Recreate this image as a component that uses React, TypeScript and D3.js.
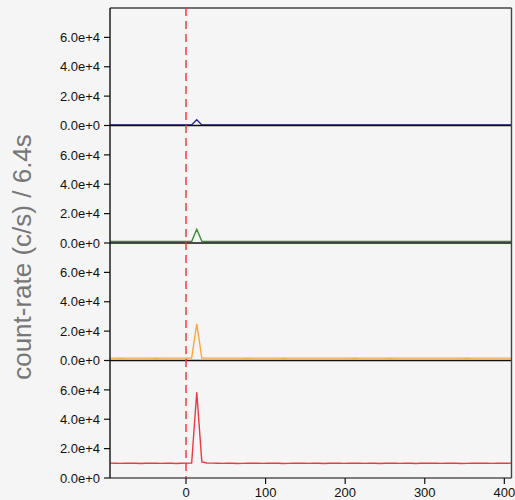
import React from "react";
import * as d3 from "d3";

const T0 = -95.3;
const BIN = 6.4;
const xTicks = [0, 100, 200, 300, 400];
const yTicks = [0, 20000, 40000, 60000];

const navy = [420, 400, 430, 410, 390, 420, 400, 410, 430, 400, 420, 410, 400, 430, 410, 400, 420, 3900, 420, 400, 410, 430, 400, 420, 410, 400, 430, 410, 420, 400, 410, 430, 400, 410, 420, 400, 430, 410, 400, 420, 410, 430, 400, 410, 420, 400, 430, 410, 420, 400, 410, 430, 400, 420, 410, 400, 430, 410, 420, 400, 410, 430, 400, 420, 410, 400, 430, 420, 400, 410, 430, 400, 420, 410, 400, 430, 410, 420, 400, 410];
const green = [1000, 1050, 980, 1020, 1000, 1040, 990, 1010, 1030, 980, 1020, 1000, 1050, 990, 1010, 1000, 1020, 9300, 1100, 1000, 1020, 1040, 990, 1010, 1030, 1000, 1050, 980, 1020, 1000, 1040, 990, 1010, 1030, 980, 1020, 1000, 1050, 990, 1010, 1000, 1020, 1040, 990, 1010, 1030, 1000, 1050, 980, 1020, 1000, 1040, 990, 1010, 1030, 980, 1020, 1000, 1050, 990, 1010, 1000, 1020, 1040, 1000, 1030, 990, 1020, 1010, 1050, 980, 1000, 1040, 1010, 990, 1030, 1000, 1020, 1010, 1000];
const orange = [1600, 1650, 1580, 1620, 1600, 1640, 1590, 1610, 1630, 1580, 1620, 1600, 1650, 1590, 1610, 1600, 1620, 25000, 1700, 1600, 1620, 1640, 1590, 1610, 1630, 1600, 1650, 1580, 1620, 1600, 1640, 1590, 1610, 1630, 1580, 1620, 1600, 1650, 1590, 1610, 1600, 1620, 1640, 1590, 1610, 1630, 1600, 1650, 1580, 1620, 1600, 1640, 1590, 1610, 1630, 1580, 1620, 1600, 1650, 1590, 1610, 1600, 1620, 1640, 1600, 1630, 1590, 1620, 1610, 1650, 1580, 1600, 1640, 1610, 1590, 1630, 1600, 1620, 1610, 1600];
const red = [10100, 10000, 9950, 10050, 10100, 10000, 9900, 10000, 10050, 10100, 9950, 10000, 10050, 9900, 10000, 10100, 10200, 58400, 11000, 10200, 10100, 10000, 9950, 10050, 10000, 9900, 9950, 10000, 10100, 10050, 9950, 10000, 10100, 10000, 9900, 9950, 10050, 10100, 10000, 9950, 10050, 10000, 9900, 10000, 10100, 10050, 9950, 10000, 10100, 10000, 9950, 10050, 10000, 9900, 10000, 10100, 10000, 9950, 10050, 10000, 9900, 10000, 10100, 10050, 10000, 9950, 10050, 10100, 10000, 9900, 9950, 10050, 10000, 10100, 10000, 9950, 10050, 10000, 10100, 10050];

const seriesList = [navy, green, orange, red];
const colors = ["#1f1f8a", "#3a8a3a", "#ffa53a", "#ea3a45"];

const W = 515;
const H = 500;
const L = 110;
const R = 511.5;
const TOP = 8;
const BOT = 478;
const PH = (BOT - TOP) / 4;

export default function App() {
  const x = d3.scaleLinear().domain([-95.5, 409]).range([L, R]);
  const times = d3.range(navy.length).map((i) => T0 + i * BIN);
  const fmt = (v: number) => v.toExponential(1);
  return (
    <svg width={W} height={H} style={{ position: "absolute", left: 0, top: 0, display: "block" }}
      fontFamily="'Liberation Sans', Arial, Helvetica, sans-serif">
      <rect x={0} y={0} width={W} height={H} fill="#f5f5f5" />
      <defs>
        <clipPath id="plotclip">
          <rect x={L} y={TOP} width={R - L} height={BOT - TOP} />
        </clipPath>
      </defs>
      {seriesList.map((vals, p) => {
        const y0 = TOP + PH * (p + 1);
        const y = d3.scaleLinear().domain([0, 80000]).range([y0, y0 - PH]);
        const line = d3.line<number>().x((_, i) => x(times[i])).y((v) => y(v));
        return (
          <g key={p}>
            <g clipPath="url(#plotclip)">
              <path d={line(vals) || ""} fill="none" stroke={colors[p]} strokeWidth={1.4} />
            </g>
            {yTicks.map((t) => (
              <g key={t}>
                <line x1={L - 6} x2={L} y1={y(t)} y2={y(t)} stroke="#111" strokeWidth={1.2} />
                <text x={L - 10} y={y(t)} dy="0.36em" textAnchor="end" fontSize={13} fill="#111">
                  {fmt(t)}
                </text>
              </g>
            ))}
            <line x1={L} x2={R} y1={y0} y2={y0} stroke={p === 3 ? "#555" : "#111"} strokeWidth={1.4} />
          </g>
        );
      })}
      <line x1={L} x2={R} y1={TOP} y2={TOP} stroke="#444" strokeWidth={1.4} />
      <line x1={L} x2={L} y1={TOP} y2={BOT} stroke="#111" strokeWidth={1.4} />
      <line x1={R} x2={R} y1={TOP} y2={BOT} stroke="#444" strokeWidth={1.4} />
      <line x1={x(0)} x2={x(0)} y1={TOP} y2={BOT} stroke="#ff2a2a" strokeWidth={1.4} strokeDasharray="8,5" />
      {xTicks.map((t) => (
        <g key={t}>
          <line x1={x(t)} x2={x(t)} y1={BOT} y2={BOT + 6} stroke="#111" strokeWidth={1.2} />
          <text x={x(t)} y={BOT + 19} textAnchor="middle" fontSize={13} fill="#111">
            {t}
          </text>
        </g>
      ))}
      <text transform={`translate(31, ${(TOP + BOT) / 2 + 14}) rotate(-90)`} textAnchor="middle"
        fontSize={26} fill="#777">
        count-rate (c/s) / 6.4s
      </text>
    </svg>
  );
}
